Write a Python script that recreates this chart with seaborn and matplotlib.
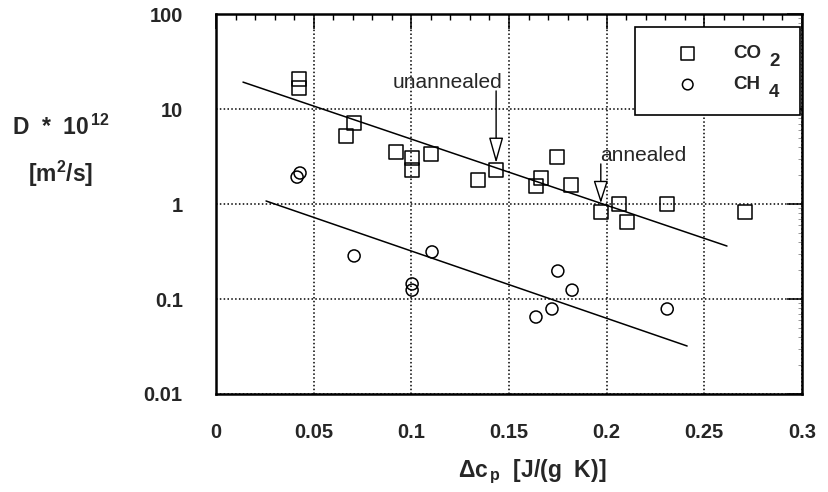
import matplotlib
matplotlib.use("Agg")
import matplotlib.pyplot as plt
import numpy as np
import seaborn as sns
from matplotlib.patches import Rectangle
from matplotlib.ticker import MultipleLocator, LogLocator, NullFormatter, FixedLocator, FixedFormatter

# CO2 diffusion data
co2_dcp = [0.0425, 0.0425, 0.0666, 0.0707, 0.092, 0.1004, 0.1004, 0.110, 0.134, 0.1434,
           0.1638, 0.1664, 0.1746, 0.1818, 0.197, 0.2063, 0.2104, 0.231, 0.271]
co2_d = [20.7, 16.6, 5.2, 7.1, 3.5, 3.05, 2.28, 3.36, 1.79, 2.28,
         1.55, 1.88, 3.12, 1.58, 0.82, 1.0, 0.65, 1.0, 0.82]

# CH4 diffusion data
ch4_dcp = [0.0430, 0.0415, 0.0707, 0.1106, 0.1004, 0.1004, 0.175, 0.1823, 0.172, 0.1638, 0.231]
ch4_d = [2.12, 1.92, 0.284, 0.313, 0.144, 0.124, 0.197, 0.124, 0.0785, 0.0646, 0.0785]

# fitted lines (end points)
co2_fit_x = [0.0138, 0.2616]
co2_fit_y = [19.2, 0.361]
ch4_fit_x = [0.0256, 0.2412]
ch4_fit_y = [1.076, 0.032]

x_ticks = [0, 0.05, 0.1, 0.15, 0.2, 0.25, 0.3]
x_tick_labels = ["0", "0.05", "0.1", "0.15", "0.2", "0.25", "0.3"]
y_ticks = [0.01, 0.1, 1, 10, 100]
y_tick_labels = ["0.01", "0.1", "1", "10", "100"]

sns.set_style("white")
plt.rcParams['font.family'] = ['Liberation Sans', 'DejaVu Sans']
plt.rcParams['mathtext.fontset'] = 'custom'
plt.rcParams['mathtext.rm'] = 'Liberation Sans:bold'
plt.rcParams['mathtext.it'] = 'Liberation Sans:bold'
plt.rcParams['mathtext.bf'] = 'Liberation Sans:bold'

fig = plt.figure(figsize=(8.29, 4.92), dpi=100)
ax = fig.add_axes([0.2606, 0.1992, 0.7068, 0.7723])

sns.lineplot(x=co2_fit_x, y=co2_fit_y, color='black', lw=1.1, ax=ax)
sns.lineplot(x=ch4_fit_x, y=ch4_fit_y, color='black', lw=1.1, ax=ax)

sns.scatterplot(x=co2_dcp, y=co2_d, marker='s', s=105, facecolor='none',
                edgecolor='black', linewidth=1.1, ax=ax, label='CO', zorder=3)
sns.scatterplot(x=ch4_dcp, y=ch4_d, marker='o', s=75, facecolor='none',
                edgecolor='black', linewidth=1.1, ax=ax, label='CH', zorder=3)

ax.set_yscale('log')
ax.set_xlim(0, 0.3)
ax.set_ylim(0.01, 100)

ax.xaxis.set_major_locator(FixedLocator(x_ticks))
ax.xaxis.set_major_formatter(FixedFormatter(x_tick_labels))
ax.xaxis.set_minor_locator(MultipleLocator(0.01))
ax.yaxis.set_major_locator(FixedLocator(y_ticks))
ax.yaxis.set_major_formatter(FixedFormatter(y_tick_labels))
ax.yaxis.set_minor_locator(LogLocator(base=10, subs=np.arange(2, 10)))
ax.yaxis.set_minor_formatter(NullFormatter())

ax.tick_params(which='major', direction='in', length=11, width=1.1, top=True, right=True,
               labelsize=14.5, color='black')
ax.tick_params(axis='x', which='major', pad=21)
ax.tick_params(axis='y', which='major', pad=24)
ax.tick_params(which='minor', direction='in', length=4.5, width=1, top=True, right=True, color='black')
ax.tick_params(axis='y', which='minor', length=3, width=0.6, colors='#888888')
for lbl in ax.get_xticklabels() + ax.get_yticklabels():
    lbl.set_fontweight('bold')

ax.grid(True, which='major', linestyle=(0, (1, 1.5)), color='black', lw=1.1)
for sp in ax.spines.values():
    sp.set_linewidth(1.8)
    sp.set_color('black')

ax.set_xlabel(r'$\Delta$c$_{\,\mathbf{p}}$  [J/(g  K)]', fontsize=16.5, fontweight='bold')
ax.xaxis.set_label_coords(0.539, -0.168)
ax.set_ylabel('D  *  10$^{\\,12}$\n[m$^\\mathbf{2}$/s]', fontsize=16.5, fontweight='bold',
              rotation=0, linespacing=1.85, ha='center', va='center')
ax.yaxis.set_label_coords(-0.2645, 0.637)

# annotations
ax.text(0.1183, 16.6, 'unannealed', ha='center', va='baseline', fontsize=15)
ax.annotate('', xy=(0.1434, 2.7), xytext=(0.1434, 15.5),
            arrowprops=dict(arrowstyle='-|>,head_length=1.6,head_width=0.45',
                            fc='white', ec='black', lw=1, shrinkA=0, shrinkB=0))
ax.text(0.2186, 2.84, 'annealed', ha='center', va='baseline', fontsize=15)
ax.annotate('', xy=(0.197, 1.02), xytext=(0.197, 2.64),
            arrowprops=dict(arrowstyle='-|>,head_length=1.4,head_width=0.45',
                            fc='white', ec='black', lw=1, shrinkA=0, shrinkB=0))

# legend: frame drawn as a patch, subscripts attached to the labels
ax.add_patch(Rectangle((0.715, 0.734), 0.2816, 0.232, transform=ax.transAxes, fill=True,
                       fc='white', ec='black', lw=1.2, zorder=5))
leg = ax.legend(loc='upper left', bbox_to_anchor=(0.773, 0.918), frameon=False,
                prop={'weight': 'bold', 'size': 13.5}, handlelength=2.0, handletextpad=1.45,
                borderpad=0, borderaxespad=0, labelspacing=0.75, markerscale=0.88)
leg.set_zorder(6)
for txt, sub in zip(leg.get_texts(), ['2', '4']):
    ax.annotate(sub, xy=(1, 0), xycoords=txt, xytext=(8, -4), textcoords='offset pixels',
                ha='left', va='baseline', fontsize=13.5, fontweight='bold', zorder=7)

fig.savefig('out.png', dpi=100)
